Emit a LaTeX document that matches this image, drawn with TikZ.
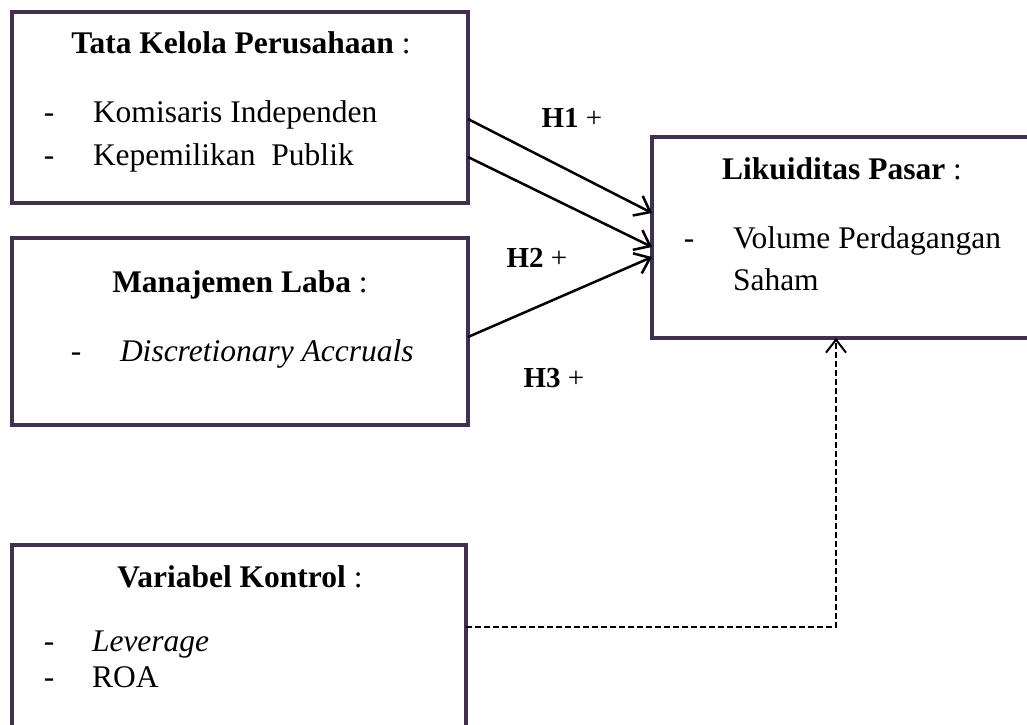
\documentclass[tikz,border=0pt]{standalone}
\usepackage{fontspec}
\setmainfont{Liberation Serif}
\usetikzlibrary{arrows.meta}
\definecolor{boxpurple}{RGB}{64,49,82}
\begin{document}
\begin{tikzpicture}[x=1pt,y=-1pt,
  box/.style={draw=boxpurple, line width=4pt, rectangle, inner sep=0pt, outer sep=0pt},
  txt/.style={inner sep=0pt, outer sep=0pt, font=\fontsize{31.5}{38}\selectfont},
  lbl/.style={inner sep=0pt, outer sep=0pt, font=\fontsize{29}{34}\selectfont, anchor=base},
  arr/.style={line width=2.5pt, -{Straight Barb[length=14pt,width=22pt]}},
  dsh/.style={line width=2pt, dash pattern=on 6pt off 3pt, -{Straight Barb[length=13pt,width=20pt]}}]
\useasboundingbox (0,0) rectangle (1027,724);
\clip (0,0) rectangle (1027,724);
% boxes
\node[box, minimum width=456pt, minimum height=191pt] (b1) at (240,107.5) {};
\node[box, minimum width=456pt, minimum height=187pt] (b2) at (240,331.5) {};
\node[box, minimum width=388pt, minimum height=201pt] (b3) at (846,237.5) {};
\node[box, minimum width=454pt, minimum height=195pt] (b4) at (239,642.5) {};
% box 1 text
\node[txt, anchor=base] (t1) at (241,53) {\textbf{Tata Kelola Perusahaan} :};
\node[txt, anchor=base] (t1d1) at (49,122) {-};
\node[txt, anchor=base west] (t1a) at (93,122) {Komisaris Independen};
\node[txt, anchor=base] (t1d2) at (49,165) {-};
\node[txt, anchor=base west] (t1b) at (93,165) {Kepemilikan\ \ Publik};
% box 2 text
\node[txt, anchor=base] (t2) at (240,292) {\textbf{Manajemen Laba} :};
\node[txt, anchor=base] (t2d1) at (76,361) {-};
\node[txt, anchor=base west] (t2a) at (120,361) {\textit{Discretionary Accruals}};
% box 3 text
\node[txt, anchor=base] (t3) at (842,179) {\textbf{Likuiditas Pasar} :};
\node[txt, anchor=base] (t3d1) at (689,248) {-};
\node[txt, anchor=base west] (t3a) at (733,248) {Volume Perdagangan};
\node[txt, anchor=base west] (t3b) at (733,290) {Saham};
% box 4 text
\node[txt, anchor=base] (t4) at (240,587) {\textbf{Variabel Kontrol} :};
\node[txt, anchor=base] (t4d1) at (49,651) {-};
\node[txt, anchor=base west] (t4a) at (92,651) {\textit{Leverage}};
\node[txt, anchor=base] (t4d2) at (49,687) {-};
\node[txt, anchor=base west] (t4b) at (92,687) {ROA};
% labels
\node[lbl] (h1) at (572,127) {\textbf{H1} +};
\node[lbl] (h2) at (537,267) {\textbf{H2} +};
\node[lbl] (h3) at (554,387) {\textbf{H3} +};
% connectors
\draw[arr] ([yshift=-11.5pt]b1.east) -- ([yshift=24.5pt]b3.west);
\draw[arr] ([yshift=-49.5pt]b1.east) -- ([yshift=-9.5pt]b3.west);
\draw[arr] ([yshift=-5.5pt]b2.east) -- ([yshift=-19.5pt]b3.west);
\draw[dsh] ([yshift=15.5pt]b4.east) -| ([xshift=-10pt]b3.south);
\end{tikzpicture}
\end{document}
